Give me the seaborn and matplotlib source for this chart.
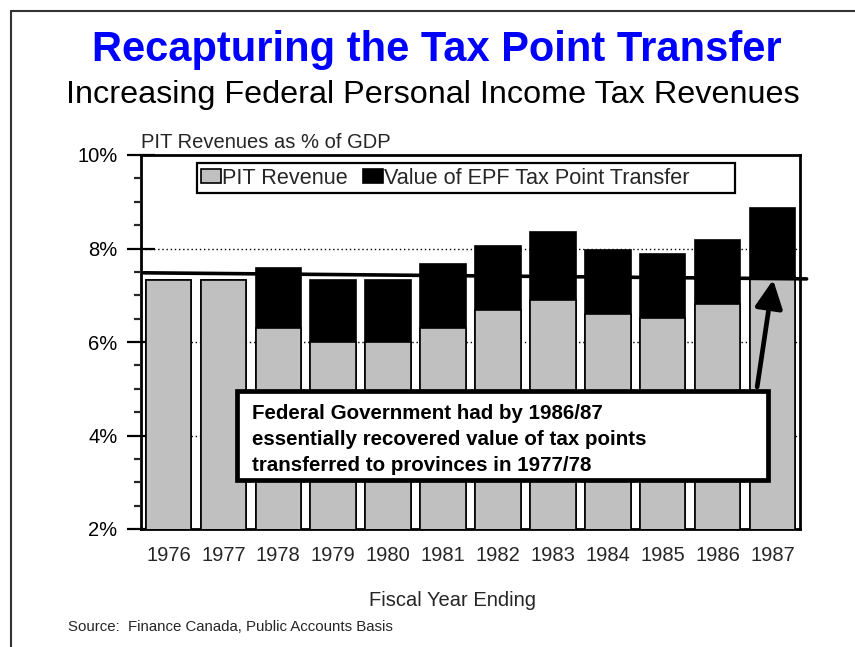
import numpy as np
import pandas as pd
import matplotlib
matplotlib.use("Agg")
import matplotlib.pyplot as plt
import seaborn as sns
from matplotlib.patches import Patch, Rectangle
from matplotlib.lines import Line2D
from matplotlib.ticker import MultipleLocator, FuncFormatter

# ---- data ----
years = ["1976", "1977", "1978", "1979", "1980", "1981",
         "1982", "1983", "1984", "1985", "1986", "1987"]
pit_revenue = [7.32, 7.32, 6.31, 6.00, 6.00, 6.31, 6.68, 6.90, 6.60, 6.52, 6.82, 7.38]
epf_transfer = [0.00, 0.00, 1.28, 1.32, 1.32, 1.36, 1.37, 1.45, 1.37, 1.36, 1.36, 1.48]
trend_x = [-0.45, 11.62]
trend_y = [7.48, 7.35]
ytick_values = [2, 4, 6, 8, 10]

title = "Recapturing the Tax Point Transfer"
subtitle = "Increasing Federal Personal Income Tax Revenues"
ylabel = "PIT Revenues as % of GDP"
xlabel = "Fiscal Year Ending"
source = "Source:  Finance Canada, Public Accounts Basis"
legend_labels = ["PIT Revenue", "Value of EPF Tax Point Transfer"]
note_lines = ["Federal Government had by 1986/87",
              "essentially recovered value of tax points",
              "transferred to provinces in 1977/78"]

df = pd.DataFrame({"year": years, "pit": pit_revenue, "epf": epf_transfer})
df["total"] = df["pit"] + df["epf"]

sns.set_style("white")
plt.rcParams["font.family"] = ["Liberation Sans", "DejaVu Sans"]

W, H = 855, 647
fig = plt.figure(figsize=(W / 100, H / 100), dpi=100)

def fx(px):
    return px / W

def fy(py):
    return 1 - py / H

ax = fig.add_axes([fx(141), fy(529), fx(800) - fx(141), fy(155) - fy(529)])

gray = "#C0C0C0"
sns.barplot(data=df, x="year", y="total", color="black", edgecolor="black",
            linewidth=1.2, width=0.83, saturation=1, ax=ax, zorder=2, errorbar=None)
sns.barplot(data=df, x="year", y="pit", color=gray, edgecolor="black",
            linewidth=1.2, width=0.83, saturation=1, ax=ax, zorder=3, errorbar=None)

ax.set_xlim(-0.5, len(years) - 0.5)
ax.set_ylim(2, 10)
ax.set_axisbelow(False)
ax.set_xlabel("")
ax.set_ylabel("")

# grid lines (dotted, behind bars)
for v in ytick_values[1:-1]:
    ax.axhline(v, color="black", lw=1.0, ls=(0, (1, 2)), zorder=0.5)

ax.set_yticks(ytick_values)
ax.yaxis.set_major_formatter(FuncFormatter(lambda v, p: f"{v:.0f}%"))
ax.yaxis.set_minor_locator(MultipleLocator(0.5))
ax.tick_params(axis="y", which="major", direction="inout", length=20, width=1.6,
               labelsize=14.5, pad=7, colors="black", left=True)
ax.tick_params(axis="y", which="minor", direction="out", length=5, width=1.6,
               left=True)
ax.tick_params(axis="x", which="major", direction="in", length=7, width=1.6,
               labelsize=14.5, pad=12, bottom=True)

for s in ax.spines.values():
    s.set_visible(True)
    s.set_color("black")
    s.set_linewidth(2.0)

# trend line
ax.plot(trend_x, trend_y, color="black", lw=2.6, clip_on=False, zorder=6,
        solid_capstyle="round")

# arrow
ax.annotate("", xy=(11.01, 7.33), xytext=(10.72, 5.04),
            arrowprops=dict(arrowstyle="-|>,head_length=0.85,head_width=0.42",
                            lw=3.4, color="black", mutation_scale=20,
                            shrinkA=0, shrinkB=0),
            annotation_clip=False, zorder=7)

# annotation box
rect = Rectangle((fx(236.5), fy(479.5)), fx(767.5) - fx(236.5), fy(390.5) - fy(479.5),
                 transform=fig.transFigure, facecolor="white", edgecolor="black",
                 lw=3.4, zorder=8, clip_on=False)
ax.add_artist(rect)
for i, line in enumerate(note_lines):
    fig.text(fx(252), fy(419 + 26 * i), line, fontsize=14.8, fontweight="bold",
             ha="left", va="baseline", color="black", zorder=9)

# legend (frame drawn separately)
legend_frame = Rectangle((fx(197), fy(193)), fx(735) - fx(197), fy(163) - fy(193),
                         transform=fig.transFigure, facecolor="white",
                         edgecolor="black", lw=1.6, zorder=4)
fig.add_artist(legend_frame)
handles = [Patch(facecolor=gray, edgecolor="black", lw=1.2),
           Patch(facecolor="black", edgecolor="black", lw=1.2)]
leg = fig.legend(handles, legend_labels, loc="center left",
                 bbox_to_anchor=(fx(201), fy(178.5)), ncol=2, fontsize=15.6,
                 frameon=False, handlelength=0.9, handleheight=0.6,
                 handletextpad=0.08, columnspacing=0.7, borderpad=0,
                 borderaxespad=0)
leg.set_zorder(5)

# texts
fig.text(fx(437), fy(50), title, fontsize=30, fontweight="bold", color="#0000FF",
         ha="center", va="center")
fig.text(fx(433), fy(95), subtitle, fontsize=23.3, color="black",
         ha="center", va="center")
fig.text(fx(141), fy(148), ylabel, fontsize=14.5, ha="left", va="baseline")
fig.text(fx(452), fy(606), xlabel, fontsize=14.5, ha="center", va="baseline")
fig.text(fx(68), fy(631), source, fontsize=10.8, ha="left", va="baseline")

# page frame
fig.add_artist(Line2D([fx(11), 1.0], [fy(11), fy(11)], color="#333333", lw=1.5,
                      transform=fig.transFigure))
fig.add_artist(Line2D([fx(11), fx(11)], [fy(11), 0.0], color="#333333", lw=1.5,
                      transform=fig.transFigure))

fig.savefig("out.png", dpi=100)
